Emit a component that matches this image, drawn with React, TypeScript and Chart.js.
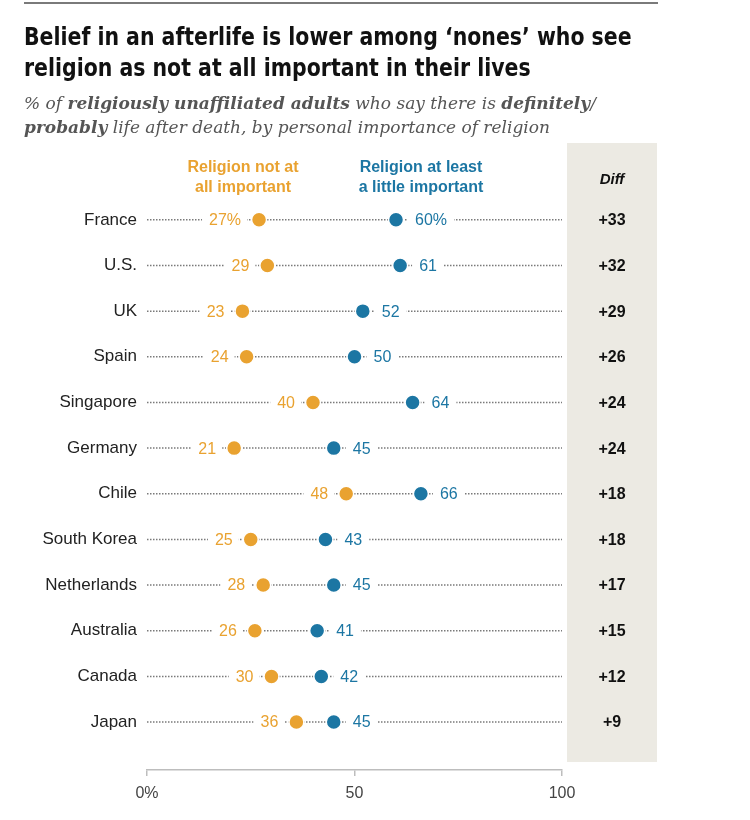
import { useEffect, useRef } from "react";
import { Chart, registerables } from "chart.js";

Chart.register(...registerables);

const countries = [
  "France",
  "U.S.",
  "UK",
  "Spain",
  "Singapore",
  "Germany",
  "Chile",
  "South Korea",
  "Netherlands",
  "Australia",
  "Canada",
  "Japan",
];

// % saying definitely/probably life after death
const notImportant = [27, 29, 23, 24, 40, 21, 48, 25, 28, 26, 30, 36];
const atLeastLittle = [60, 61, 52, 50, 64, 45, 66, 43, 45, 41, 42, 45];

const xTicks = [0, 50, 100];

const ORANGE = "#E9A230";
const BLUE = "#1C76A3";
const SANS = "'Liberation Sans', Arial, sans-serif";
const NARROW = "'Liberation Sans Narrow', 'DejaVu Sans Condensed', 'Liberation Sans', Arial, sans-serif";

const rowsPlugin = {
  id: "rows",
  beforeDatasetsDraw(chart: Chart) {
    const { ctx, chartArea } = chart;
    const xs = chart.scales.x;
    const ys = chart.scales.y;

    ctx.save();

    // diff column
    const colLeft = chartArea.right + 5;
    const colRight = chartArea.right + 95;
    const colMid = (colLeft + colRight) / 2;
    ctx.fillStyle = "#ECEAE3";
    ctx.fillRect(colLeft, 143, colRight - colLeft, 762 - 143);

    ctx.textBaseline = "middle";
    ctx.textAlign = "center";
    ctx.fillStyle = "#111";
    ctx.font = `italic bold 15px ${SANS}`;
    ctx.fillText("Diff", colMid, 180);

    // column headers
    ctx.font = `bold 16px ${SANS}`;
    ctx.fillStyle = ORANGE;
    ctx.fillText("Religion not at", 243, 168);
    ctx.fillText("all important", 243, 188);
    ctx.fillStyle = BLUE;
    ctx.fillText("Religion at least", 421, 168);
    ctx.fillText("a little important", 421, 188);

    const x0 = xs.getPixelForValue(0);
    const x1 = xs.getPixelForValue(100);

    countries.forEach((_, i) => {
      const y = ys.getPixelForValue(i);

      // dotted guide
      ctx.strokeStyle = "#7a7a7a";
      ctx.lineWidth = 1.5;
      ctx.setLineDash([1.5, 1.5]);
      ctx.beginPath();
      ctx.moveTo(x0, y);
      ctx.lineTo(x1, y);
      ctx.stroke();
      ctx.setLineDash([]);

      const suffix = i === 0 ? "%" : "";
      ctx.font = `16px ${SANS}`;

      // orange label, left of dot
      const ox = xs.getPixelForValue(notImportant[i]);
      const oText = `${notImportant[i]}${suffix}`;
      const ow = ctx.measureText(oText).width;
      const oLeft = ox - 18 - ow - 7;
      ctx.fillStyle = "#fff";
      ctx.fillRect(oLeft, y - 9, ox - 12 - oLeft, 18);
      ctx.fillStyle = ORANGE;
      ctx.textAlign = "right";
      ctx.fillText(oText, ox - 18, y + 1);

      // blue label, right of dot
      const bx = xs.getPixelForValue(atLeastLittle[i]);
      const bText = `${atLeastLittle[i]}${suffix}`;
      const bw = ctx.measureText(bText).width;
      ctx.fillStyle = "#fff";
      ctx.fillRect(bx + 12, y - 9, bw + 14, 18);
      ctx.fillStyle = BLUE;
      ctx.textAlign = "left";
      ctx.fillText(bText, bx + 19, y + 1);

      // diff
      ctx.font = `bold 16px ${SANS}`;
      ctx.fillStyle = "#111";
      ctx.textAlign = "center";
      ctx.fillText(`+${atLeastLittle[i] - notImportant[i]}`, colMid, y + 1);
    });

    ctx.restore();
  },
};

export default function App() {
  const canvasRef = useRef<HTMLCanvasElement>(null);

  useEffect(() => {
    if (!canvasRef.current) return;

    const chart = new Chart(canvasRef.current, {
      type: "scatter",
      data: {
        datasets: [
          {
            label: "Religion not at all important",
            data: notImportant.map((v, i) => ({ x: v, y: i })),
            backgroundColor: ORANGE,
            borderColor: "#fff",
            borderWidth: 1.5,
            pointRadius: 7.5,
          },
          {
            label: "Religion at least a little important",
            data: atLeastLittle.map((v, i) => ({ x: v, y: i })),
            backgroundColor: BLUE,
            borderColor: "#fff",
            borderWidth: 1.5,
            pointRadius: 7.5,
          },
        ],
      },
      options: {
        responsive: false,
        animation: false,
        events: [],
        layout: {
          padding: { top: 197, right: 188, bottom: 0, left: 0 },
        },
        plugins: {
          legend: { display: false },
          tooltip: { enabled: false },
        },
        scales: {
          x: {
            type: "linear",
            min: 0,
            max: 100,
            afterFit: (scale: any) => {
              scale.height = 50;
            },
            afterBuildTicks: (scale: any) => {
              scale.ticks = xTicks.map((value) => ({ value }));
            },
            grid: {
              display: true,
              drawOnChartArea: false,
              drawTicks: true,
              tickLength: 6,
              color: "#bdbdbd",
              lineWidth: 1.5,
            },
            border: { display: true, color: "#bdbdbd", width: 1.5 },
            ticks: {
              padding: 8,
              color: "#444",
              font: { family: SANS, size: 16 },
              callback: (v: any) => (v === 0 ? "0%" : `${v}`),
            },
          },
          y: {
            type: "linear",
            reverse: true,
            min: -0.5,
            max: 12.05,
            afterFit: (scale: any) => {
              scale.width = 147;
            },
            afterBuildTicks: (scale: any) => {
              scale.ticks = countries.map((_, value) => ({ value }));
            },
            grid: { display: false, drawTicks: false },
            border: { display: false },
            ticks: {
              padding: 10,
              color: "#222",
              font: { family: SANS, size: 17 },
              callback: (v: any) => countries[v] ?? "",
            },
          },
        },
      },
      plugins: [rowsPlugin],
    });

    return () => {
      chart.destroy();
    };
  }, []);

  return (
    <div style={{ position: "absolute", left: 0, top: 0, width: 750, height: 820, background: "#fff" }}>
      <div
        style={{
          position: "absolute",
          left: 24,
          top: 2,
          width: 634,
          borderTop: "2px solid #7a7a7a",
        }}
      />
      <canvas
        ref={canvasRef}
        width={750}
        height={820}
        style={{ position: "absolute", left: 0, top: 0, width: 750, height: 820 }}
      />
      <div
        style={{
          position: "absolute",
          left: 24,
          top: 21,
          fontFamily: NARROW,
          fontWeight: 700,
          fontSize: 25,
          lineHeight: "31px",
          color: "#111",
          whiteSpace: "nowrap",
          transform: "scaleX(0.91)",
          transformOrigin: "left top",
        }}
      >
        Belief in an afterlife is lower among ‘nones’ who see
        <br />
        religion as not at all important in their lives
      </div>
      <div
        style={{
          position: "absolute",
          left: 24,
          top: 91,
          fontFamily: "'DejaVu Serif', Georgia, serif",
          fontStyle: "italic",
          fontSize: 17,
          lineHeight: "24px",
          color: "#555",
          whiteSpace: "nowrap",
        }}
      >
        % of <b>religiously unaffiliated adults</b> who say there is <b>definitely</b>/
        <br />
        <b>probably</b> life after death, by personal importance of religion
      </div>
    </div>
  );
}
